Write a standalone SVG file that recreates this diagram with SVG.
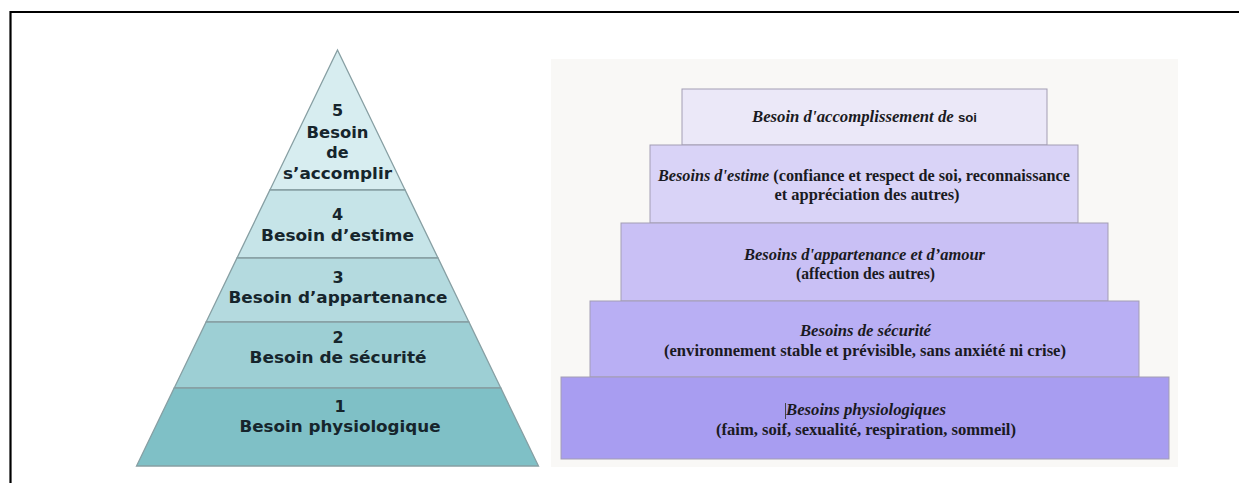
<svg xmlns="http://www.w3.org/2000/svg" width="1239" height="483" viewBox="0 0 1239 483">
<style>
.frame{stroke:#000;stroke-width:2.2;fill:none}
.layer{stroke:#879fa3;stroke-width:1.3}
.pt{font-family:"DejaVu Sans",Verdana,sans-serif;font-weight:bold;font-size:16px;fill:#16252c;text-anchor:middle}
.step{stroke:#a39db3;stroke-width:1}
.st{font-family:"Liberation Serif","Times New Roman",serif;font-weight:bold;font-size:16.5px;fill:#1a1a22;text-anchor:middle}
.it{font-style:italic}
</style>
<rect width="1239" height="483" fill="#ffffff"/>
<g id="frame">
<polyline class="frame" points="10.5,483 10.5,12 1239,12"/>
</g>
<g id="pyramid">
<g id="level5">
<polygon class="layer" fill="#d7edf0" points="337.5,50 405.1,190 269.9,190"/>
<text class="pt" x="337.5" y="116">5</text>
<text class="pt" x="337.5" y="138" textLength="62" lengthAdjust="spacingAndGlyphs">Besoin</text>
<text class="pt" x="337.5" y="158">de</text>
<text class="pt" x="337.5" y="179" textLength="109" lengthAdjust="spacingAndGlyphs">s’accomplir</text>
</g>
<g id="level4">
<polygon class="layer" fill="#c6e4e8" points="269.9,190 405.1,190 438,258 237,258"/>
<text class="pt" x="337.5" y="220">4</text>
<text class="pt" x="337.5" y="241" textLength="153" lengthAdjust="spacingAndGlyphs">Besoin d’estime</text>
</g>
<g id="level3">
<polygon class="layer" fill="#b4dadf" points="237,258 438,258 468.9,322 206.1,322"/>
<text class="pt" x="338" y="283">3</text>
<text class="pt" x="338" y="303" textLength="219" lengthAdjust="spacingAndGlyphs">Besoin d’appartenance</text>
</g>
<g id="level2">
<polygon class="layer" fill="#9dcfd4" points="206.1,322 468.9,322 500.8,388 174.2,388"/>
<text class="pt" x="338" y="343">2</text>
<text class="pt" x="338" y="363" textLength="177" lengthAdjust="spacingAndGlyphs">Besoin de sécurité</text>
</g>
<g id="level1">
<polygon class="layer" fill="#7fc0c6" points="174.2,388 500.8,388 538.5,466 136.5,466"/>
<text class="pt" x="340" y="412">1</text>
<text class="pt" x="340" y="432" textLength="201" lengthAdjust="spacingAndGlyphs">Besoin physiologique</text>
</g>
</g>
<g id="steps">
<rect x="551" y="59" width="627" height="408" fill="#f9f8f6"/>
<g id="step5">
<rect class="step" x="682" y="89" width="365" height="56" fill="#ebe8f8"/>
<text class="st" x="864.5" y="122" textLength="225" lengthAdjust="spacingAndGlyphs"><tspan class="it">Besoin d'accomplissement de </tspan><tspan font-family="Liberation Sans, Arial, sans-serif" font-size="13">soi</tspan></text>
</g>
<g id="step4">
<rect class="step" x="650" y="145" width="428" height="78" fill="#d9d3f7"/>
<text class="st" x="864" y="181" textLength="412" lengthAdjust="spacingAndGlyphs"><tspan class="it">Besoins d'estime</tspan> (confiance et respect de soi, reconnaissance</text>
<text class="st" x="867" y="200" textLength="185" lengthAdjust="spacingAndGlyphs">et appréciation des autres)</text>
</g>
<g id="step3">
<rect class="step" x="621" y="223" width="487" height="78" fill="#c9c0f5"/>
<text class="st it" x="864.5" y="260" textLength="241" lengthAdjust="spacingAndGlyphs">Besoins d'appartenance et d’amour</text>
<text class="st" x="865.5" y="279" textLength="139" lengthAdjust="spacingAndGlyphs">(affection des autres)</text>
</g>
<g id="step2">
<rect class="step" x="590" y="301" width="549" height="76" fill="#b9aff4"/>
<text class="st it" x="865.5" y="336" textLength="131" lengthAdjust="spacingAndGlyphs">Besoins de sécurité</text>
<text class="st" x="865" y="356" textLength="402" lengthAdjust="spacingAndGlyphs">(environnement stable et prévisible, sans anxiété ni crise)</text>
</g>
<g id="step1">
<rect class="step" x="561" y="377" width="608" height="82" fill="#a89df1"/>
<line x1="785.5" y1="403" x2="785.5" y2="419" stroke="#444" stroke-width="1"/>
<text class="st it" x="866" y="415" textLength="160" lengthAdjust="spacingAndGlyphs">Besoins physiologiques</text>
<text class="st" x="866" y="435" textLength="300" lengthAdjust="spacingAndGlyphs">(faim, soif, sexualité, respiration, sommeil)</text>
</g>
</g>
</svg>
